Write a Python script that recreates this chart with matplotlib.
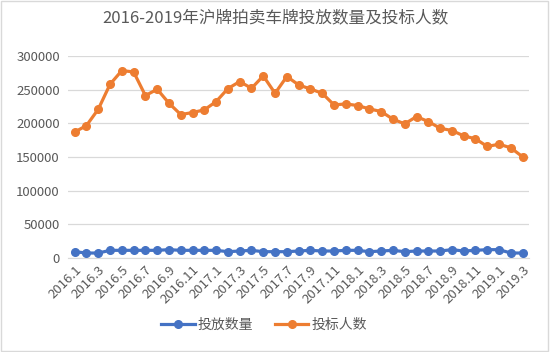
import matplotlib
matplotlib.use("Agg")
import matplotlib.pyplot as plt

plt.rcParams['font.family'] = ['Noto Sans CJK SC', 'DejaVu Sans']

# 月份 2016.1 - 2019.3
months = [f"{y}.{m}" for y in (2016, 2017, 2018) for m in range(1, 13)] + ["2019.1", "2019.2", "2019.3"]

quota = [9400, 7400, 7400, 11400, 11400, 11400, 11400, 11400, 12400, 11400,
         11400, 11400, 11400, 9400, 10400, 11400, 9400, 9400, 9400, 10400,
         11400, 10400, 10400, 11400, 11400, 9400, 10400, 11400, 9400, 10400,
         10400, 10400, 12400, 10400, 11400, 12400, 12400, 7400, 7400]

bidders = [187000, 196700, 220900, 258000, 278300, 276300, 241200, 250600, 229800, 213000,
           216000, 220000, 232300, 251600, 262000, 252000, 270400, 244600, 269500, 257000,
           251000, 244600, 227300, 228800, 226400, 221400, 217500, 206100, 199200, 210000,
           202600, 192700, 189300, 181400, 177000, 165600, 169000, 163600, 150200]

blue = '#4472C4'
orange = '#ED7D31'
grey = '#595959'

fig = plt.figure(figsize=(5.5, 3.52), dpi=100)
ax = fig.add_axes([0.124, 0.267, 0.838, 0.574])

x = list(range(len(months)))
ax.plot(x, quota, color=blue, lw=2.3, marker='o', ms=5.5, label='投放数量', zorder=3)
ax.plot(x, bidders, color=orange, lw=2.3, marker='o', ms=5.5, label='投标人数', zorder=3)

ax.set_ylim(0, 300000)
ax.set_yticks(range(0, 300001, 50000))
ax.set_xlim(-0.55, len(months) - 0.45)
ax.set_xticks(x[::2])
ax.set_xticklabels(months[::2], rotation=45, ha='right', rotation_mode='anchor')
ax.tick_params(axis='both', length=0, colors=grey, labelsize=9.5)
ax.tick_params(axis='x', pad=4)
ax.tick_params(axis='y', pad=6)
ax.grid(axis='y', color='#D9D9D9', lw=0.9)
ax.set_axisbelow(True)
for s in ['top', 'right', 'left']:
    ax.spines[s].set_visible(False)
ax.spines['bottom'].set_color('#D9D9D9')

fig.suptitle('2016-2019年沪牌拍卖车牌投放数量及投标人数', x=0.5, y=0.975,
             fontsize=12, color=grey)
fig.legend(loc='center', bbox_to_anchor=(0.48, 0.077), ncol=2, frameon=False,
           fontsize=10, labelcolor=grey, handlelength=2.4, handletextpad=0.2,
           columnspacing=1.6)

border = plt.Rectangle((0.002, 0.003), 0.995, 0.994, transform=fig.transFigure,
                       fill=False, edgecolor='#D9D9D9', lw=1)
fig.patches.append(border)

fig.savefig('out.png', dpi=100)
